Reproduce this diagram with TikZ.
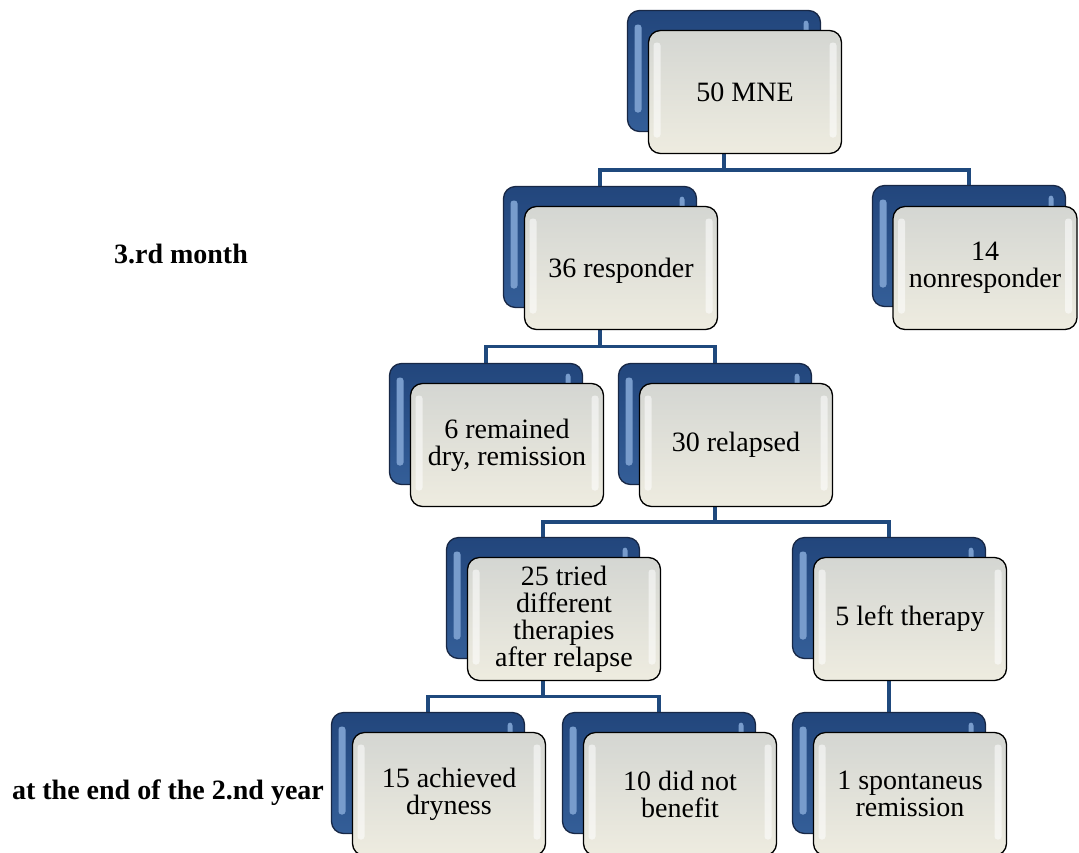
\documentclass[tikz,border=0pt]{standalone}
\usepackage{fontspec}
\setmainfont{Liberation Serif}
\usetikzlibrary{calc,backgrounds}

\definecolor{navyedge}{RGB}{24,40,70}
\definecolor{navytop}{RGB}{34,70,124}
\definecolor{navybot}{RGB}{52,94,152}
\definecolor{navylight}{RGB}{120,156,204}
\definecolor{greytop}{RGB}{212,214,210}
\definecolor{greybot}{RGB}{238,236,224}
\definecolor{linkblue}{RGB}{31,73,125}

\newcommand{\boxfont}{\fontsize{28}{27}\selectfont}
\newcommand{\sidefont}{\fontsize{28}{28}\selectfont\bfseries}

\begin{document}
\begin{tikzpicture}[x=1pt,y=-1pt,
    backbox/.style={draw=navyedge, line width=1.3pt, rounded corners=12pt,
      minimum width=193pt, minimum height=121pt,
      top color=navytop, bottom color=navybot,
      path picture={
        \fill[navylight,rounded corners=3pt] ([shift={(7pt,-14pt)}]path picture bounding box.north west) rectangle ++(7pt,-88pt);
        \fill[navylight,rounded corners=3pt] ([shift={(-12pt,-10pt)}]path picture bounding box.north east) rectangle ++(-5pt,-14pt);
      }},
    frontbox/.style={draw=black, line width=1.3pt, rounded corners=12pt,
      minimum width=193pt, minimum height=123pt, inner sep=3pt,
      top color=greytop, bottom color=greybot,
      align=center, font=\boxfont,
      path picture={
        \fill[white,opacity=.55,rounded corners=3pt] ([shift={(5pt,-12pt)}]path picture bounding box.north west) rectangle ++(7pt,-95pt);
        \fill[white,opacity=.55,rounded corners=3pt] ([shift={(-5pt,-12pt)}]path picture bounding box.north east) rectangle ++(-7pt,-95pt);
      }},
    link/.style={draw=linkblue, line width=3.5pt},
    sidetext/.style={font=\sidefont}]

  \useasboundingbox (0,0) rectangle (1079,852);

  % side labels
  \node[sidetext] (third) at (181,254) {3.rd month};
  \node[sidetext] (second) at (168,793) {at the end of the 2.nd year};

  % back boxes
  \node[backbox] (mneb) at (724,71) {};
  \node[backbox] (respb) at (600,247) {};
  \node[backbox] (nonrb) at (969,246) {};
  \node[backbox] (dryb) at (486,424) {};
  \node[backbox] (relb) at (715,424) {};
  \node[backbox] (triedb) at (543,598) {};
  \node[backbox] (leftb) at (889,598) {};
  \node[backbox] (achvb) at (428,773) {};
  \node[backbox] (nobenb) at (659,773) {};
  \node[backbox] (spontb) at (889,773) {};

  % front boxes
  \node[frontbox] (mne) at ($(mneb)+(21,21)$) {50 MNE};
  \node[frontbox, text depth=-12pt] (resp) at ($(respb)+(21,21)$) {36 responder};
  \node[frontbox, minimum width=184pt] (nonr) at ($(nonrb)+(16,22)$) {14\\nonresponder};
  \node[frontbox] (dry) at ($(dryb)+(21,21)$) {6 remained\\dry, remission};
  \node[frontbox] (rel) at ($(relb)+(21,21)$) {30 relapsed};
  \node[frontbox] (tried) at ($(triedb)+(21,21)$) {25 tried\\different\\therapies\\after relapse};
  \node[frontbox] (leftth) at ($(leftb)+(21,21)$) {5 left therapy};
  \node[frontbox] (achv) at ($(achvb)+(21,21)$) {15 achieved\\dryness};
  \node[frontbox] (noben) at ($(nobenb)+(21,21)$) {10 did not\\benefit};
  \node[frontbox] (spont) at ($(spontb)+(21,21)$) {1 spontaneus\\remission};

  % connectors
  \begin{scope}[on background layer]
    \coordinate (bus1) at ($(mne.south)!.5!(respb.north)$);
    \coordinate (bus2) at ($(resp.south)!.5!(dryb.north)$);
    \coordinate (bus3) at ($(rel.south)!.5!(triedb.north)$);
    \coordinate (bus4) at ($(tried.south)!.5!(achvb.north)$);
    \draw[link] (mneb.center) -- (mneb.center |- bus1) -| (respb.center);
    \draw[link] (mneb.center |- bus1) -| (nonrb.center);
    \draw[link] (respb.center) -- (respb.center |- bus2) -| (dryb.center);
    \draw[link] (respb.center |- bus2) -| (relb.center);
    \draw[link] (relb.center) -- (relb.center |- bus3) -| (triedb.center);
    \draw[link] (relb.center |- bus3) -| (leftb.center);
    \draw[link] (triedb.center) -- (triedb.center |- bus4) -| (achvb.center);
    \draw[link] (triedb.center |- bus4) -| (nobenb.center);
    \draw[link] (leftb.center) -- (spontb.center);
  \end{scope}
\end{tikzpicture}
\end{document}
